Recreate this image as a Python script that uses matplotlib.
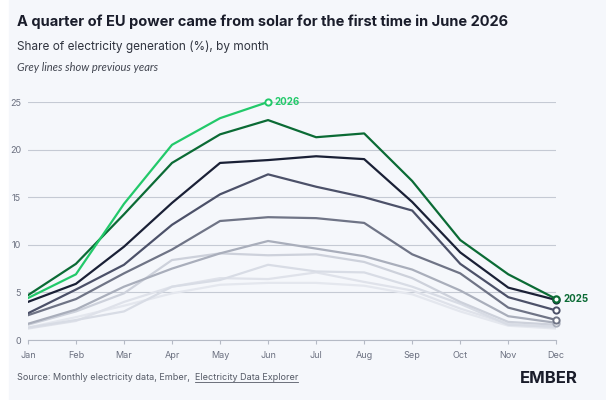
import matplotlib
matplotlib.use("Agg")
import matplotlib.pyplot as plt

months = ["Jan","Feb","Mar","Apr","May","Jun","Jul","Aug","Sep","Oct","Nov","Dec"]
s2026 = [4.4, 6.9, 14.3, 20.5, 23.3, 25.0]
s2025 = [4.7, 8.0, 13.2, 18.6, 21.6, 23.1, 21.3, 21.7, 16.7, 10.5, 6.9, 4.3]
s2024 = [4.0, 5.9, 9.8, 14.4, 18.6, 18.9, 19.3, 19.0, 14.5, 9.2, 5.5, 4.2]
s2023 = [2.8, 5.3, 7.9, 12.1, 15.3, 17.4, 16.1, 15.0, 13.6, 8.0, 4.5, 3.1]
s2022 = [2.6, 4.3, 7.0, 9.5, 12.5, 12.9, 12.8, 12.3, 9.0, 7.0, 3.4, 2.1]
s2021 = [1.7, 3.2, 5.6, 7.5, 9.1, 10.4, 9.6, 8.8, 7.4, 5.2, 2.5, 1.8]
s2020 = [1.6, 3.0, 4.9, 8.4, 9.1, 8.9, 9.0, 8.2, 6.5, 4.0, 1.9, 1.6]
s2019 = [1.3, 2.1, 3.0, 5.6, 6.3, 7.9, 7.2, 7.1, 5.6, 3.8, 1.6, 1.4]
s2018 = [1.2, 2.0, 4.0, 5.6, 6.5, 6.4, 7.1, 6.1, 5.2, 3.3, 1.7, 1.3]
s2017 = [1.3, 2.4, 3.6, 4.9, 5.8, 6.0, 6.0, 5.7, 4.8, 3.0, 1.5, 1.2]

bg = "#f5f7fb"
fig = plt.figure(figsize=(6.06, 4.0), dpi=100, facecolor="white")
fig.patches.append(plt.Rectangle((0.015, 0.0), 0.985, 1.0, transform=fig.transFigure, color=bg, zorder=-1))
ax = fig.add_axes([0.046, 0.15, 0.872, 0.595])
ax.set_facecolor(bg)
x = list(range(12))

greys = [(s2017, "#e4e7ee"), (s2018, "#dfe2ea"), (s2019, "#d8dce5"), (s2020, "#cdd1db"),
         (s2021, "#a9aebb"), (s2022, "#6f7486"), (s2023, "#4c5169"), (s2024, "#1a2036")]
for i, (s, c) in enumerate(greys):
    ax.plot(x, s, color=c, lw=1.6, zorder=2 + i)
    if i >= 4:
        ax.plot(x[-1], s[-1], 'o', ms=4.5, mfc="white", mec=c, mew=1.4, zorder=20, clip_on=False)
ax.plot(x, s2025, color="#0b6b35", lw=1.6, zorder=12)
ax.plot(x[-1], s2025[-1], 'o', ms=4.5, mfc="white", mec="#0b6b35", mew=1.6, zorder=21, clip_on=False)
ax.plot(x[:6], s2026, color="#22c96a", lw=1.6, zorder=13)
ax.plot(5, s2026[-1], 'o', ms=4.5, mfc="white", mec="#22c96a", mew=1.4, zorder=21, clip_on=False)
ax.text(5.13, s2026[-1], "2026", color="#22c96a", fontsize=7, fontweight="bold", va="center", family="Inter")
ax.text(11.15, s2025[-1], "2025", color="#0b6b35", fontsize=7, fontweight="bold", va="center", family="Inter")

ax.set_xlim(0, 11)
ax.set_ylim(0, 25)
ax.set_yticks([0, 5, 10, 15, 20, 25])
ax.set_xticks(x)
ax.set_xticklabels(months)
ax.grid(axis="y", color="#c5cad4", lw=0.8)
ax.set_axisbelow(True)
for sp in ax.spines.values():
    sp.set_visible(False)
ax.spines["bottom"].set_visible(True)
ax.spines["bottom"].set_color("#b5bac5")
ax.tick_params(axis="both", length=0, labelsize=6.5, colors="#6b7080", pad=5)
ax.tick_params(axis="x", length=3, color="#b5bac5")
for lab in ax.get_xticklabels() + ax.get_yticklabels():
    lab.set_family("Inter")

fig.text(0.028, 0.935, "A quarter of EU power came from solar for the first time in June 2026",
         fontsize=10.5, fontweight="bold", color="#1a1d2b", family="Inter")
fig.text(0.028, 0.875, "Share of electricity generation (%), by month", fontsize=8.5, color="#30343f", family="Inter")
fig.text(0.028, 0.823, "Grey lines show previous years", fontsize=8, style="italic", color="#40444f", family="Lato")
t1 = fig.text(0.028, 0.05, "Source: Monthly electricity data, Ember, ", fontsize=6.5, color="#555a66", family="Inter")
fig.canvas.draw()
bb = t1.get_window_extent().transformed(fig.transFigure.inverted())
t2 = fig.text(bb.x1 + 0.004, 0.05, "Electricity Data Explorer", fontsize=6.5, color="#555a66", family="Inter")
fig.canvas.draw()
bb2 = t2.get_window_extent().transformed(fig.transFigure.inverted())
fig.add_artist(plt.Line2D([bb2.x0, bb2.x1], [0.044, 0.044], color="#555a66", lw=0.6))
fig.text(0.858, 0.043, "EMBER", fontsize=12, fontweight="bold", color="#1a1d2b", family="Inter")
fig.savefig("out.png", dpi=100, facecolor=fig.get_facecolor())
